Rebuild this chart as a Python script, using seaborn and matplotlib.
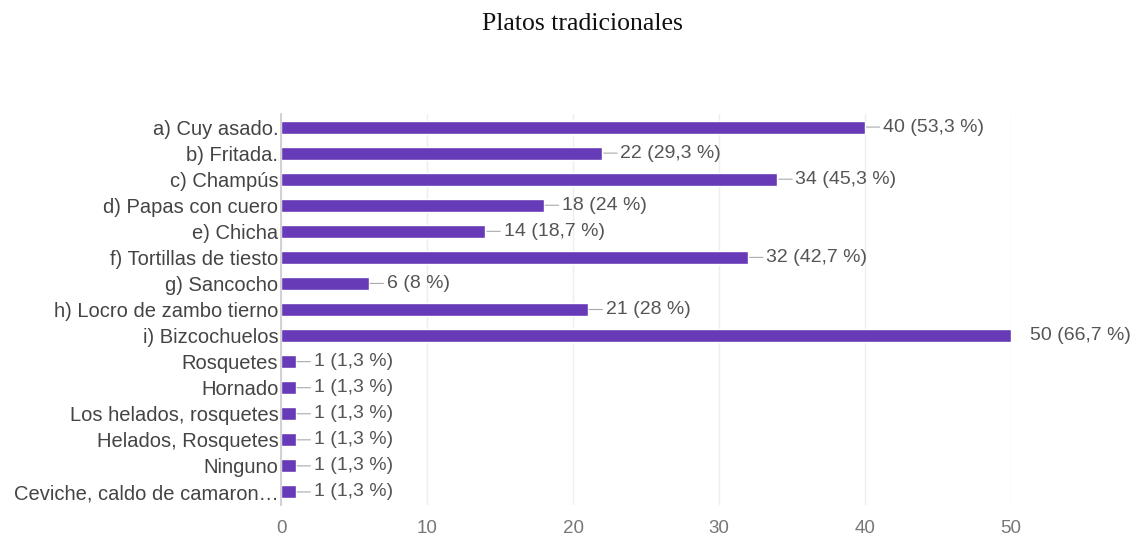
import matplotlib
matplotlib.use("Agg")
import matplotlib.pyplot as plt
import seaborn as sns
import pandas as pd

categories = [
    "a) Cuy asado.", "b) Fritada.", "c) Champús", "d) Papas con cuero",
    "e) Chicha", "f) Tortillas de tiesto", "g) Sancocho",
    "h) Locro de zambo tierno", "i) Bizcochuelos", "Rosquetes", "Hornado",
    "Los helados, rosquetes", "Helados, Rosquetes", "Ninguno",
    "Ceviche, caldo de camaron…",
]
counts = [40, 22, 34, 18, 14, 32, 6, 21, 50, 1, 1, 1, 1, 1, 1]
percents = ["53,3", "29,3", "45,3", "24", "18,7", "42,7", "8", "28", "66,7",
            "1,3", "1,3", "1,3", "1,3", "1,3", "1,3"]
x_ticks = [0, 10, 20, 30, 40, 50]

df = pd.DataFrame({"cat": categories, "n": counts})

sns.set_theme(style="white")
plt.rcParams["font.family"] = ["Liberation Sans", "DejaVu Sans"]

fig = plt.figure(figsize=(11.36, 5.43), dpi=100)
ax = fig.add_axes([0.2474, 0.07, 0.6426, 0.72])

sns.barplot(data=df, y="cat", x="n", color="#673ab7", width=0.5,
            saturation=1, ax=ax, orient="h")

ax.set_xlim(0, 50)
ax.set_xticks(x_ticks)
ax.set_xticklabels([str(t) for t in x_ticks], color="#777777", fontsize=13.5)
ax.tick_params(axis="x", length=0, pad=11)
ax.tick_params(axis="y", length=0, pad=2, labelsize=14.5, labelcolor="#444444")
ax.set_xlabel("")
ax.set_ylabel("")
ax.grid(axis="x", color="#eeeeee", lw=1)
ax.set_axisbelow(True)
for s in ["top", "right", "bottom"]:
    ax.spines[s].set_visible(False)
ax.spines["left"].set_color("#cccccc")

for i, (v, p) in enumerate(zip(counts, percents)):
    txt = f"{v} ({p} %)"
    if v >= 50:
        ax.annotate(txt, xy=(v, i), xytext=(14, 0), textcoords="offset points",
                    va="center", ha="left", fontsize=14, color="#555555",
                    annotation_clip=False)
    else:
        ax.annotate(txt, xy=(v, i), xytext=(13, 0), textcoords="offset points",
                    va="center", ha="left", fontsize=14, color="#555555",
                    arrowprops=dict(arrowstyle="-", color="#aaaaaa", lw=0.8,
                                    shrinkA=0, shrinkB=1))

fig.text(0.5128, 0.9448, "Platos tradicionales", ha="center", va="baseline",
         fontsize=18.5, family=["Liberation Serif", "DejaVu Serif"],
         color="#111111")

fig.savefig("out.png", dpi=100)
